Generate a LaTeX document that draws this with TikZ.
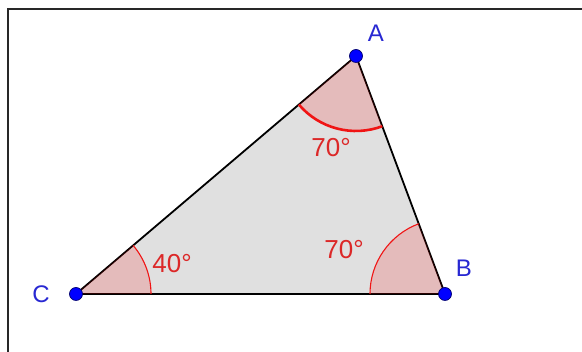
\documentclass[tikz,border=0pt]{standalone}
\usepackage{fontspec}
\setmainfont{Liberation Sans}
\usetikzlibrary{angles}
\definecolor{trifill}{RGB}{224,224,224}
\definecolor{ptblue}{RGB}{0,0,255}
\definecolor{ptedge}{RGB}{0,0,110}
\definecolor{lblblue}{RGB}{40,40,210}
\definecolor{angred}{RGB}{220,40,40}
\definecolor{arcred}{RGB}{240,20,20}
\definecolor{framecol}{RGB}{40,40,40}
\tikzset{
  edge/.style={draw=black, line width=1.8pt},
  angsector/.style={fill=red, fill opacity=0.16, draw=arcred, line width=1.1pt, angle radius=75pt},
  angsel/.style={angsector, line width=2.6pt},
  ptdot/.style={circle, fill=ptblue, draw=ptedge, line width=0.7pt, minimum size=13pt, inner sep=0pt},
  ptlabel/.style={text=lblblue, font=\fontsize{24}{24}\selectfont, inner sep=0pt},
  anglabel/.style={text=angred, font=\fontsize{26}{26}\selectfont, inner sep=0pt},
}
\begin{document}
\begin{tikzpicture}[x=1pt,y=1pt]
\useasboundingbox (0,0) rectangle (582,352);
% frame
\draw[framecol, line width=2pt] (7.5,0) -- (7.5,342.5) -- (582,342.5);
% vertices
\coordinate (A) at (356,296);
\coordinate (B) at (445,58);
\coordinate (C) at (76,58);
% triangle
\fill[trifill] (A) -- (B) -- (C) -- cycle;
\draw[edge] (A) -- (B) -- (C) -- cycle;
% angle sectors
\pic[angsector] {angle = B--C--A};
\pic[angsector] {angle = A--B--C};
\pic[angsel] {angle = C--A--B};
% points
\node[ptdot] (pA) at (A) {};
\node[ptdot] (pB) at (B) {};
\node[ptdot] (pC) at (C) {};
% labels
\node[ptlabel] (lA) at (376,319) {A};
\node[ptlabel] (lB) at (464,84) {B};
\node[ptlabel] (lC) at (41,58) {C};
\node[anglabel] (aA) at (331,204.5) {70°};
\node[anglabel] (aC) at (172,88) {40°};
\node[anglabel] (aB) at (344,102) {70°};
\end{tikzpicture}
\end{document}
